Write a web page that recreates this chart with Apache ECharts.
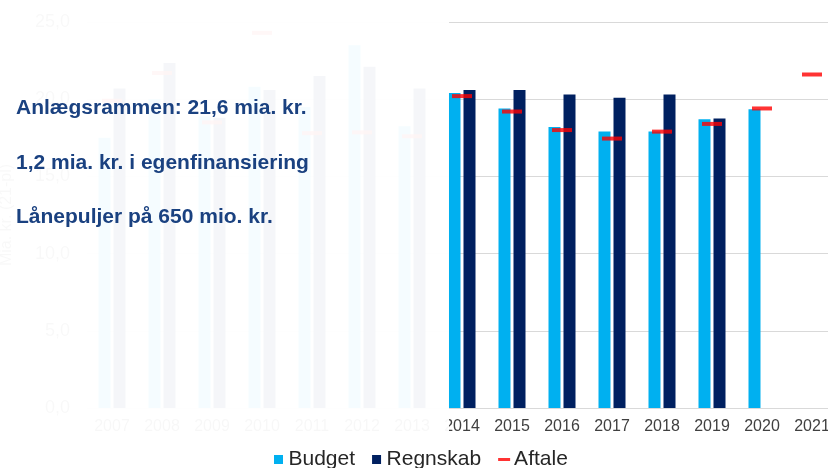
<!DOCTYPE html>
<html>
<head>
<meta charset="utf-8">
<script src="https://cdn.jsdelivr.net/npm/echarts@6/dist/echarts.min.js"></script>
<style>
html,body{margin:0;padding:0;background:#fff;}
#c{width:828px;height:468px;}
</style>
</head>
<body>
<div id="c"></div>
<script>
var years = ['2007','2008','2009','2010','2011','2012','2013','2014','2015','2016','2017','2018','2019','2020','2021'];
var budget = [17.5, 20.0, 18.9, 20.8, 19.5, 23.5, 18.25, 20.4, 19.4, 18.2, 17.9, 17.9, 18.7, 19.35, null];
var regnskab = [20.7, 22.35, 18.8, 20.6, 21.5, 22.1, 20.7, 20.6, 20.6, 20.3, 20.1, 20.3, 18.75, null, null];
var aftale = [19.9, 21.7, 18.5, 24.3, 17.8, 17.85, 17.6, 20.2, 19.2, 18.0, 17.45, 17.9, 18.4, 19.4, 21.6];
var notes = ['Anlægsrammen: 21,6 mia. kr.', '1,2 mia. kr. i egenfinansiering', 'Lånepuljer på 650 mio. kr.'];

var FONT = '"Liberation Sans", Arial, sans-serif';
var chart = echarts.init(document.getElementById('c'), null, {renderer:'canvas'});

var graphics = [{
  type:'rect', left:0, top:0, z:100, silent:true,
  shape:{x:0,y:0,width:449,height:444},
  style:{fill:'rgba(255,255,255,0.962)'}
}];
var noteY = [108, 163, 217];
notes.forEach(function(t,i){
  graphics.push({
    type:'text', z:101, silent:true, x:16, y:noteY[i],
    style:{text:t, font:'bold 21px ' + FONT, fill:'#1A4180', textVerticalAlign:'middle', verticalAlign:'middle'}
  });
});

chart.setOption({
  animation:false,
  backgroundColor:'#ffffff',
  textStyle:{fontFamily:FONT},
  grid:{left:87, top:22, width:750, height:386, containLabel:false, outerBoundsMode:'none'},
  legend:{
    left:269, top:444, itemWidth:12, itemHeight:9, itemGap:17,
    textStyle:{fontSize:21, color:'#262626', fontFamily:FONT, padding:[0,0,0,-1]},
    data:[
      {name:'Budget', icon:'path://M0,0H9V9H0Z'},
      {name:'Regnskab', icon:'path://M0,0H9V9H0Z'},
      {name:'Aftale', icon:'path://M0,0H12V3H0Z'}
    ]
  },
  xAxis:{
    type:'category', data:years,
    axisLine:{show:true, lineStyle:{color:'#D9D9D9', width:1}},
    axisTick:{show:false},
    axisLabel:{fontSize:16, color:'#404040', margin:11, fontFamily:FONT, interval:0}
  },
  yAxis:{
    type:'value', min:0, max:25, interval:5,
    name:'Mia. kr. (21-pl)', nameLocation:'middle', nameRotate:90, nameGap:72,
    nameTextStyle:{fontSize:16, color:'#595959', fontFamily:FONT},
    axisLine:{show:false}, axisTick:{show:false},
    axisLabel:{fontSize:18, color:'#595959', margin:17, fontFamily:FONT,
      formatter:function(v){return v.toFixed(1).replace('.',',');}},
    splitLine:{lineStyle:{color:'#D9D9D9', width:1}}
  },
  series:[
    {name:'Budget', type:'bar', data:budget, barWidth:12, barGap:'25%',
      itemStyle:{color:'#00B0F0'}},
    {name:'Regnskab', type:'bar', data:regnskab, barWidth:12, barGap:'25%',
      itemStyle:{color:'#002060'}},
    {name:'Aftale', type:'scatter', data:aftale, symbol:'rect', symbolSize:[20,4], z:5,
      itemStyle:{color:'#FF0000'}}
  ],
  graphic:graphics
});
</script>
</body>
</html>
